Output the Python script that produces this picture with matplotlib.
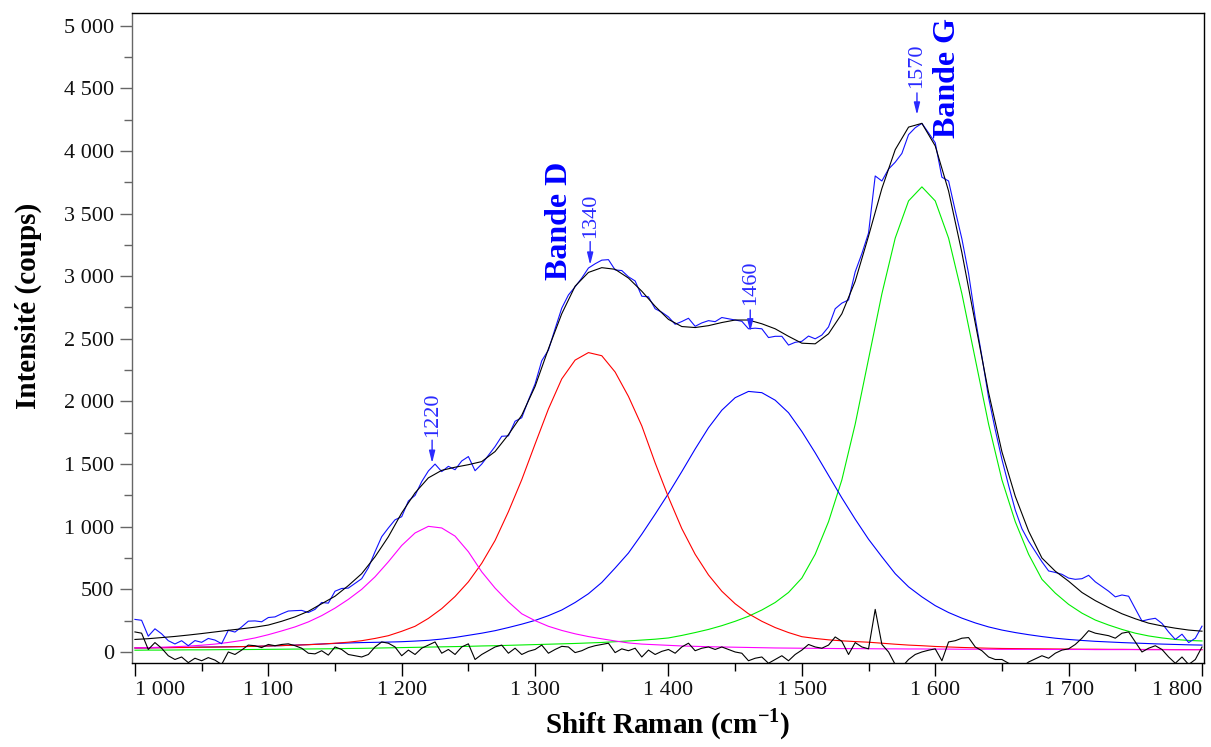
import matplotlib
matplotlib.use("Agg")
import matplotlib.pyplot as plt
import numpy as np
from matplotlib.ticker import MultipleLocator, FuncFormatter

plt.rcParams['font.family'] = ['Liberation Serif', 'DejaVu Serif']
plt.rcParams['mathtext.fontset'] = 'custom'
plt.rcParams['mathtext.rm'] = 'Liberation Serif'
plt.rcParams['mathtext.bf'] = 'Liberation Serif:bold'

# --- data ---
# fitted bands, sampled every 10 cm-1 from 1000 to 1800
x_bands = np.arange(1000, 1801, 10)
band_1220 = [33, 35, 38, 42, 47, 54, 63, 76, 92, 112,
             138, 168, 200, 240, 290, 350, 420, 500, 600, 720,
             850, 950, 1003, 990, 925, 800, 640, 510, 400, 305,
             250, 205, 172, 145, 123, 105, 88, 72, 63, 58,
             53, 48, 45, 42, 40, 38, 36, 34, 32, 31,
             30, 29, 28, 27, 27, 26, 25, 25, 24, 24,
             23, 23, 22, 22, 22, 21, 21, 21, 20, 20,
             20, 20, 19, 19, 19, 19, 18, 18, 18, 18,
             18]
band_1340 = [32, 33, 34, 35, 36, 38, 39, 41, 43, 45,
             48, 51, 54, 58, 63, 70, 78, 90, 108, 130,
             165, 205, 268, 346, 443, 560, 708, 890, 1120, 1375,
             1660, 1940, 2180, 2330, 2390, 2365, 2235, 2040, 1805, 1510,
             1235, 985, 780, 615, 485, 385, 305, 245, 195, 155,
             122, 108, 97, 89, 83, 78, 70, 62, 55, 50,
             44, 40, 36, 33, 30, 28, 27, 26, 25, 24,
             23, 22, 22, 21, 21, 20, 20, 20, 19, 19,
             19]
band_1460 = [32, 33, 35, 36, 37, 39, 40, 41, 43, 45,
             48, 51, 55, 59, 64, 68, 72, 75, 77, 79,
             82, 87, 93, 103, 116, 133, 150, 170, 195, 222,
             252, 290, 335, 395, 465, 555, 670, 790, 940, 1100,
             1265, 1440, 1620, 1790, 1930, 2030, 2080, 2070, 2010, 1910,
             1760, 1590, 1410, 1230, 1060, 900, 760, 625, 520, 440,
             370, 315, 270, 232, 200, 175, 155, 138, 123, 110,
             100, 92, 85, 80, 75, 71, 67, 63, 60, 57,
             55]
band_1570 = [14, 15, 15, 16, 17, 17, 18, 19, 19, 20,
             21, 22, 23, 24, 25, 26, 28, 29, 31, 33,
             35, 37, 39, 41, 43, 45, 48, 50, 53, 56,
             59, 62, 65, 68, 72, 76, 82, 88, 95, 102,
             112, 132, 155, 180, 210, 245, 285, 335, 395, 475,
             590, 780, 1040, 1374, 1819, 2339, 2859, 3304, 3601, 3713,
             3601, 3304, 2859, 2339, 1819, 1374, 1040, 780, 580, 470,
             380, 310, 255, 215, 180, 150, 128, 112, 100, 92,
             88]
fit_total = [100, 106, 115, 124, 135, 147, 160, 173, 185, 198,
             215, 245, 280, 325, 385, 445, 530, 625, 760, 920,
             1110, 1270, 1390, 1450, 1475, 1495, 1520, 1600, 1735, 1890,
             2120, 2420, 2700, 2920, 3030, 3068, 3055, 2985, 2880, 2760,
             2655, 2598, 2590, 2605, 2630, 2650, 2650, 2620, 2580, 2520,
             2465, 2460, 2540, 2700, 2960, 3320, 3700, 4010, 4190, 4220,
             4040, 3680, 3187, 2626, 2071, 1598, 1243, 965, 750, 645,
             565, 475, 410, 355, 305, 265, 230, 208, 190, 175,
             166]

# measured spectrum and residual, every 5 cm-1
x_spec = np.arange(1000, 1801, 5)
spectrum = [260, 253, 126, 185, 145, 90, 64, 90, 50, 91,
            77, 108, 95, 66, 173, 159, 200, 246, 248, 241,
            275, 280, 305, 327, 330, 332, 315, 340, 395, 390,
            485, 507, 510, 547, 585, 672, 800, 920, 990, 1055,
            1080, 1205, 1250, 1360, 1445, 1500, 1440, 1482, 1455, 1525,
            1560, 1447, 1500, 1570, 1640, 1722, 1725, 1842, 1870, 2010,
            2140, 2325, 2410, 2580, 2745, 2850, 2915, 2985, 3065, 3099,
            3128, 3132, 3050, 3045, 2995, 2962, 2840, 2835, 2740, 2712,
            2675, 2616, 2638, 2664, 2600, 2627, 2645, 2637, 2670, 2660,
            2650, 2640, 2580, 2585, 2580, 2510, 2520, 2520, 2450, 2472,
            2480, 2522, 2500, 2530, 2595, 2740, 2785, 2810, 3035, 3180,
            3345, 3800, 3760, 3855, 3910, 3980, 4130, 4185, 4220, 4144,
            4065, 3790, 3760, 3523, 3297, 3021, 2666, 2358, 2031, 1774,
            1538, 1330, 1133, 984, 885, 802, 720, 647, 635, 620,
            590, 580, 585, 612, 560, 522, 485, 440, 455, 445,
            345, 247, 260, 269, 228, 159, 100, 142, 75, 110,
            206]
residual = [160, 150, 20, 75, 30, -30, -60, -40, -85, -50,
            -70, -45, -65, -100, 0, -20, 15, 55, 50, 35,
            60, 50, 60, 65, 50, 30, -10, -15, 10, -25,
            40, 20, -20, -30, -40, -20, 40, 80, 70, 40,
            -30, 15, -20, 30, 55, 80, -10, 20, -20, 40,
            65, -60, -20, 10, 40, 55, -10, 30, -20, 5,
            20, 55, -10, 20, 45, 40, -5, 10, 35, 50,
            60, 70, -5, 25, 10, 30, -40, 15, -20, 5,
            20, -10, 40, 70, 10, 30, 40, 20, 40, 20,
            0, -10, -70, -50, -40, -90, -60, -30, -70, -20,
            15, 60, 40, 30, 55, 120, 85, -20, 75, 40,
            25, 340, 60, 0, -100, -120, -60, -20, 0, 14,
            25, -70, 80, 90, 110, 115, 40, 10, -40, -60,
            -60, -90, -110, -120, -80, -55, -30, -50, -10, 15,
            25, 60, 110, 170, 150, 140, 130, 110, 150, 160,
            80, 0, 30, 50, 20, -40, -90, -40, -100, -60,
            40]

# peak labels: text, x, text bottom, arrow tail, arrow tip
peak_labels = ["1220", "1340", "1460", "1570"]
peak_x = [1222.8, 1341.3, 1461.3, 1586.3]
peak_text_y = [1720, 3305, 2770, 4503]
peak_tail_y = [1691, 3276, 2730, 4463]
peak_tip_y = [1508, 3090, 2557, 4288]

# --- figure ---
fig = plt.figure(figsize=(12.11, 7.47), dpi=100)
ax = fig.add_axes([132 / 1211, 1 - 663 / 747, (1204 - 132) / 1211, (663 - 13) / 747])

lw = 0.8
ax.plot(x_bands, band_1570, color='#00ee00', lw=lw)
ax.plot(x_bands, band_1460, color='#0000ff', lw=lw)
ax.plot(x_bands, band_1340, color='#ff0000', lw=lw)
ax.plot(x_bands, band_1220, color='#ff00ff', lw=lw)
ax.plot(x_spec, residual, color='black', lw=lw)
ax.plot(x_spec, spectrum, color='#1010ff', lw=lw)
ax.plot(x_bands, fit_total, color='black', lw=lw)

num_color = '#2a2aff'
for lab, px, ty, t0, t1 in zip(peak_labels, peak_x, peak_text_y, peak_tail_y, peak_tip_y):
    ax.text(px, ty, lab, rotation=90, ha='center', va='bottom',
            fontsize=16, color=num_color)
    ax.annotate('', xy=(px, t1), xytext=(px, t0),
                arrowprops=dict(arrowstyle='-|>,head_length=0.6,head_width=0.15',
                                color=num_color, lw=1, mutation_scale=12,
                                shrinkA=0, shrinkB=0))

ax.text(1318, 2969, 'Bande D', rotation=90, ha='center', va='bottom',
        fontsize=23, fontweight='bold', color='#0000ff', clip_on=False)
ax.text(1608.9, 4104, 'Bande G', rotation=90, ha='center', va='bottom',
        fontsize=23, fontweight='bold', color='#0000ff', clip_on=False)

ax.set_xlim(997.8, 1801.5)
ax.set_ylim(-88, 5101)

ax.set_xticks(np.arange(1000, 1801, 100))
ax.xaxis.set_minor_locator(MultipleLocator(50))
ax.yaxis.set_major_locator(MultipleLocator(500))
ax.yaxis.set_minor_locator(MultipleLocator(250))
fmt = FuncFormatter(lambda v, p: f"{int(round(v)):,}".replace(",", " "))
ax.xaxis.set_major_formatter(fmt)
ax.yaxis.set_major_formatter(fmt)

ax.tick_params(which='major', direction='out', length=9, width=1,
               labelsize=16, pad=4, labelcolor='#111111')
ax.tick_params(which='minor', direction='out', length=5.5, width=1)
ax.tick_params(axis='y', which='both', color='#666666')
ax.spines['left'].set_color('#666666')
for s in ['top', 'right', 'bottom']:
    ax.spines[s].set_color('black')
for s in ax.spines.values():
    s.set_linewidth(1)

# first and last x labels hug their ticks, as in the original
xticks = ax.xaxis.get_major_ticks()
xticks[0].label1.set_horizontalalignment('left')
xticks[-1].label1.set_horizontalalignment('right')

ax.set_xlabel(r'Shift Raman (cm$^{\mathbf{-1}}$)', fontsize=21, fontweight='bold')
ax.set_ylabel('Intensité (coups)', fontsize=21, fontweight='bold')
ax.xaxis.set_label_coords(0.5, -0.094)
ax.xaxis.label.set_va('center')
ax.yaxis.set_label_coords(-0.097, 0.549)
ax.yaxis.label.set_va('center')

fig.savefig('out.png', dpi=100)
